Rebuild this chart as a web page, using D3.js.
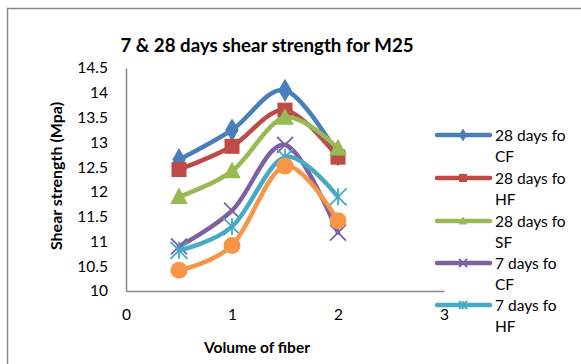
<!DOCTYPE html>
<html>
<head>
<meta charset="utf-8">
<script src="https://cdn.jsdelivr.net/npm/d3@7"></script>
<style>
  body { margin: 0; background: #fff; }
  text { font-family: Lato, "Open Sans", sans-serif; fill: #000; }
</style>
</head>
<body>
<div id="chart"></div>
<script>
var fiber = [0.5, 1, 1.5, 2];
var cf28 = [12.65, 13.25, 14.05, 12.75];
var hf28 = [12.45, 12.92, 13.65, 12.7];
var sf28 = [11.9, 12.42, 13.5, 12.88];
var cf7 = [10.9, 11.62, 12.95, 11.18];
var hf7 = [10.82, 11.3, 12.7, 11.9];
var sf7 = [10.42, 10.92, 12.52, 11.42];
var seriesNames = ['28 days fo CF', '28 days fo HF', '28 days fo SF', '7 days fo CF', '7 days fo HF', '7 days fo SF'];
var xTicks = [0, 1, 2, 3];
var yTicks = [10, 10.5, 11, 11.5, 12, 12.5, 13, 13.5, 14, 14.5];

var width = 581, height = 364;
var colors = ['#4A7EBB', '#BE4B48', '#98B954', '#7D60A0', '#46AAC5', '#F79646'];
var shapes = ['diamond', 'square', 'triangle', 'x', 'star', 'circle'];
var all = [cf28, hf28, sf28, cf7, hf7, sf7];

var svg = d3.select('#chart').append('svg')
    .attr('width', width)
    .attr('height', height);

// chart border (runs off the picture on the right and bottom)
svg.append('rect')
    .attr('x', 7.5).attr('y', 8.5)
    .attr('width', 700).attr('height', 500)
    .attr('fill', '#fff')
    .attr('stroke', '#868686')
    .attr('stroke-width', 1.5);

var x = d3.scaleLinear().domain([0, 3]).range([126, 444]);
var y = d3.scaleLinear().domain([10, 14.5]).range([291, 68]);

svg.append('text')
    .attr('x', 267).attr('y', 52)
    .attr('text-anchor', 'middle')
    .attr('font-size', 18.7)
    .attr('font-weight', 'bold')
    .text('7 & 28 days shear strength for M25');

var gx = svg.append('g')
    .attr('transform', 'translate(0,' + y(10) + ')')
    .call(d3.axisBottom(x).tickValues(xTicks).tickSize(0).tickPadding(18).tickFormat(d3.format('d')));
var gy = svg.append('g')
    .attr('transform', 'translate(' + x(0) + ',0)')
    .call(d3.axisLeft(y).tickValues(yTicks).tickSize(0).tickPadding(18).tickFormat(function(d) { return d; }));

[gx, gy].forEach(function(g) {
  g.select('.domain').attr('stroke', '#868686').attr('stroke-width', 1.5);
  g.selectAll('text').attr('font-size', 15.5).attr('font-family', 'Lato, sans-serif').attr('fill', '#000');
});

svg.append('text')
    .attr('x', 257).attr('y', 353)
    .attr('text-anchor', 'middle')
    .attr('font-size', 15.5)
    .attr('font-weight', 'bold')
    .text('Volume of fiber');

svg.append('text')
    .attr('transform', 'translate(62,176) rotate(-90)')
    .attr('text-anchor', 'middle')
    .attr('font-size', 16)
    .attr('font-weight', 'bold')
    .text('Shear strength (Mpa)');

var line = d3.line()
    .x(function(d, i) { return x(fiber[i]); })
    .y(function(d) { return y(d); })
    .curve(d3.curveCatmullRom.alpha(0));

function marker(g, shape, color, size) {
  if (shape === 'diamond') {
    g.append('path').attr('d', d3.symbol(d3.symbolDiamond, size * size * 0.6)())
      .attr('fill', color).attr('stroke', color);
  } else if (shape === 'square') {
    g.append('rect').attr('x', -size / 2).attr('y', -size / 2)
      .attr('width', size).attr('height', size).attr('fill', color);
  } else if (shape === 'triangle') {
    g.append('path').attr('d', 'M0,' + (-size * 0.6) + 'L' + (size * 0.55) + ',' + (size * 0.45) + 'L' + (-size * 0.55) + ',' + (size * 0.45) + 'Z')
      .attr('fill', color);
  } else if (shape === 'circle') {
    g.append('circle').attr('r', size / 2).attr('fill', color);
  } else {
    var h = size / 2;
    g.append('path').attr('d', 'M' + (-h) + ',' + (-h) + 'L' + h + ',' + h + 'M' + (-h) + ',' + h + 'L' + h + ',' + (-h))
      .attr('stroke', color).attr('stroke-width', 1.8).attr('fill', 'none');
    if (shape === 'star') {
      g.append('path').attr('d', 'M0,' + (-h) + 'L0,' + h)
        .attr('stroke', color).attr('stroke-width', 1.8);
    }
  }
}

var markerSizes = [15, 15, 16, 16, 17, 17];

all.forEach(function(vals, k) {
  svg.append('path')
      .datum(vals)
      .attr('d', line)
      .attr('fill', 'none')
      .attr('stroke', colors[k])
      .attr('stroke-width', 4.5)
      .attr('stroke-linejoin', 'round')
      .attr('stroke-linecap', 'round');
  vals.forEach(function(v, i) {
    var g = svg.append('g').attr('transform', 'translate(' + x(fiber[i]) + ',' + y(v) + ')');
    marker(g, shapes[k], colors[k], markerSizes[k]);
  });
});

// legend: only five entries fit in the chart box
var legendY = [135, 178, 221, 263, 305];
legendY.forEach(function(ly, k) {
  var g = svg.append('g').attr('transform', 'translate(0,' + ly + ')');
  g.append('line')
      .attr('x1', 437).attr('x2', 490)
      .attr('stroke', colors[k])
      .attr('stroke-width', 4.5)
      .attr('stroke-linecap', 'round');
  var mg = g.append('g').attr('transform', 'translate(463,0)');
  marker(mg, shapes[k], colors[k], 8);
  var words = seriesNames[k].split(' ');
  g.append('text')
      .attr('x', 495).attr('y', 5.5)
      .attr('font-size', 15.5)
      .text(words.slice(0, 3).join(' '));
  g.append('text')
      .attr('x', 495).attr('y', 27)
      .attr('font-size', 15.5)
      .text(words[3]);
});
</script>
</body>
</html>
